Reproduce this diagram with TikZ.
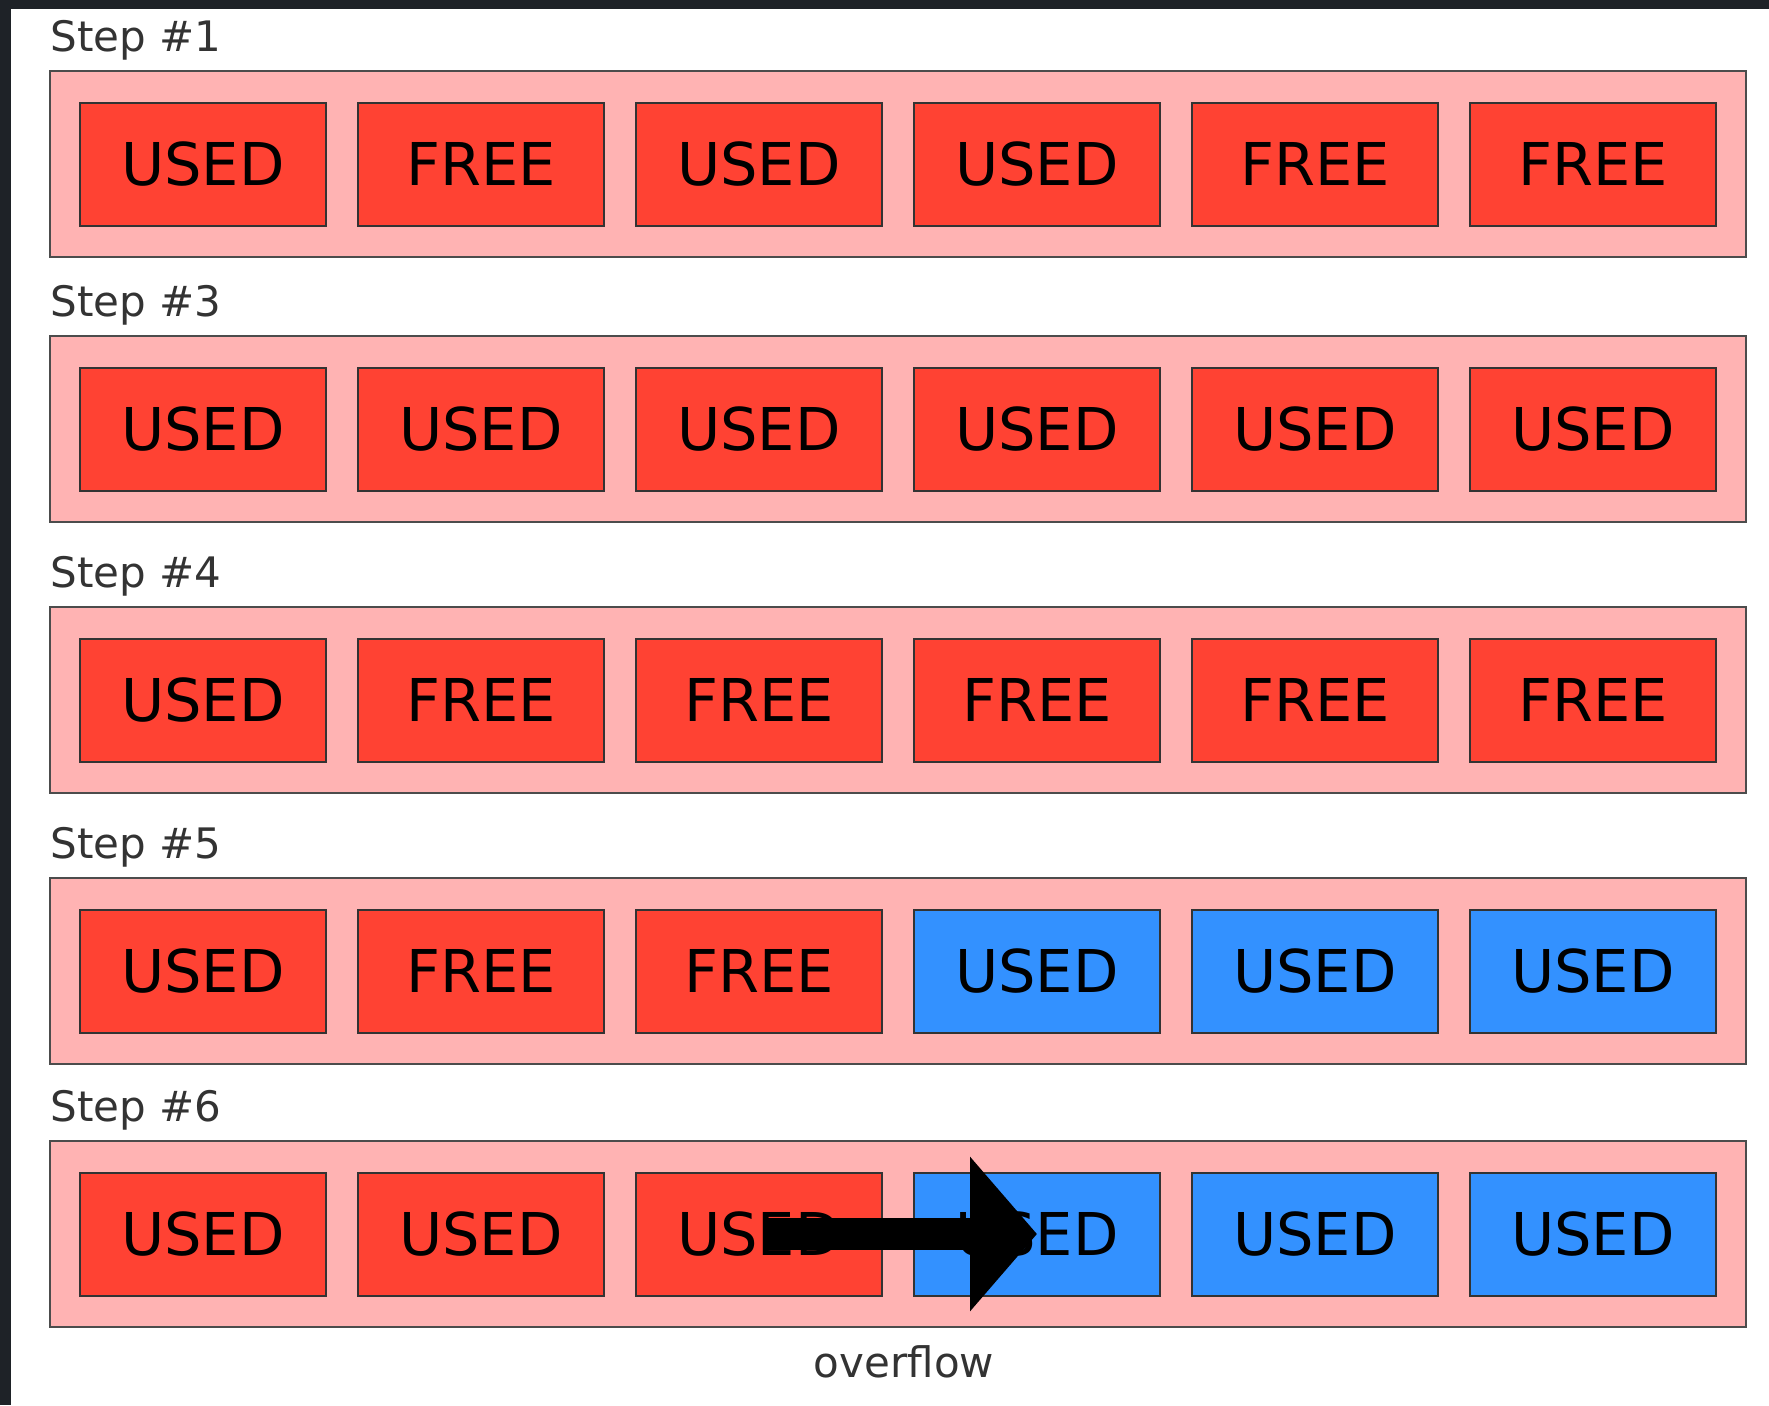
\documentclass[tikz,border=0pt]{standalone}
\usepackage{fontspec}
\setmainfont{DejaVu Sans}
\usepackage{tikz}
\usetikzlibrary{arrows.meta, positioning}
\definecolor{stripPink}{RGB}{255,179,179}
\definecolor{cellRed}{RGB}{255,66,51}
\definecolor{cellBlue}{RGB}{51,145,255}
\definecolor{frameDark}{RGB}{30,34,39}
\tikzstyle{strip} = [rectangle, minimum width=848pt, minimum height=93pt, inner sep=0pt, outer sep=0pt, draw=black!70, line width=1pt, fill=stripPink]
\tikzstyle{cell} = [rectangle, minimum width=123pt, minimum height=61.5pt, inner sep=0pt, outer sep=0pt, draw=black!80, line width=1pt, fill=cellRed, font=\fontsize{29.5}{35}\selectfont]
\tikzstyle{cellblue} = [cell, fill=cellBlue]
\tikzstyle{steplabel} = [anchor=base west, inner sep=0pt, text=black!80, font=\fontsize{21}{25}\selectfont]
\tikzstyle{bigarrow} = [line width=16pt, -{Triangle[length=33.5pt,width=75.5pt]}]

\begin{document}
\begin{tikzpicture}[x=0.5pt, y=-0.5pt]

\useasboundingbox (0,0) rectangle (1769,1405);
\fill[white] (0,0) rectangle (1769,1405);
\fill[frameDark] (0,0) rectangle (11,1405);
\fill[frameDark] (0,0) rectangle (1769,9);

% Step 1
\node (row1) [strip] at (898,164) {};
\node (lbl1) [steplabel] at ([yshift=10pt]row1.north west) {Step \#1};
\node (r1c1) [cell, right=15pt of row1.west] {USED};
\node (r1c2) [cell, right=16pt of r1c1] {FREE};
\node (r1c3) [cell, right=16pt of r1c2] {USED};
\node (r1c4) [cell, right=16pt of r1c3] {USED};
\node (r1c5) [cell, right=16pt of r1c4] {FREE};
\node (r1c6) [cell, right=16pt of r1c5] {FREE};

% Step 3
\node (row3) [strip, below=39.5pt of row1] {};
\node (lbl3) [steplabel] at ([yshift=10pt]row3.north west) {Step \#3};
\node (r3c1) [cell, right=15pt of row3.west] {USED};
\node (r3c2) [cell, right=16pt of r3c1] {USED};
\node (r3c3) [cell, right=16pt of r3c2] {USED};
\node (r3c4) [cell, right=16pt of r3c3] {USED};
\node (r3c5) [cell, right=16pt of r3c4] {USED};
\node (r3c6) [cell, right=16pt of r3c5] {USED};

% Step 4
\node (row4) [strip, below=42.5pt of row3] {};
\node (lbl4) [steplabel] at ([yshift=10pt]row4.north west) {Step \#4};
\node (r4c1) [cell, right=15pt of row4.west] {USED};
\node (r4c2) [cell, right=16pt of r4c1] {FREE};
\node (r4c3) [cell, right=16pt of r4c2] {FREE};
\node (r4c4) [cell, right=16pt of r4c3] {FREE};
\node (r4c5) [cell, right=16pt of r4c4] {FREE};
\node (r4c6) [cell, right=16pt of r4c5] {FREE};

% Step 5
\node (row5) [strip, below=42.5pt of row4] {};
\node (lbl5) [steplabel] at ([yshift=10pt]row5.north west) {Step \#5};
\node (r5c1) [cell, right=15pt of row5.west] {USED};
\node (r5c2) [cell, right=16pt of r5c1] {FREE};
\node (r5c3) [cell, right=16pt of r5c2] {FREE};
\node (r5c4) [cellblue, right=16pt of r5c3] {USED};
\node (r5c5) [cellblue, right=16pt of r5c4] {USED};
\node (r5c6) [cellblue, right=16pt of r5c5] {USED};

% Step 6
\node (row6) [strip, below=38.5pt of row5] {};
\node (lbl6) [steplabel] at ([yshift=10pt]row6.north west) {Step \#6};
\node (r6c1) [cell, right=15pt of row6.west] {USED};
\node (r6c2) [cell, right=16pt of r6c1] {USED};
\node (r6c3) [cell, right=16pt of r6c2] {USED};
\node (r6c4) [cellblue, right=16pt of r6c3] {USED};
\node (r6c5) [cellblue, right=16pt of r6c4] {USED};
\node (r6c6) [cellblue, right=16pt of r6c5] {USED};

% Overflow
\draw [bigarrow] ([xshift=3pt]r6c3.center) -- (r6c4.center);
\node (ovlabel) [steplabel, anchor=base] at ([xshift=3pt, yshift=-25pt]row6.south) {overflow};

\end{tikzpicture}
\end{document}
